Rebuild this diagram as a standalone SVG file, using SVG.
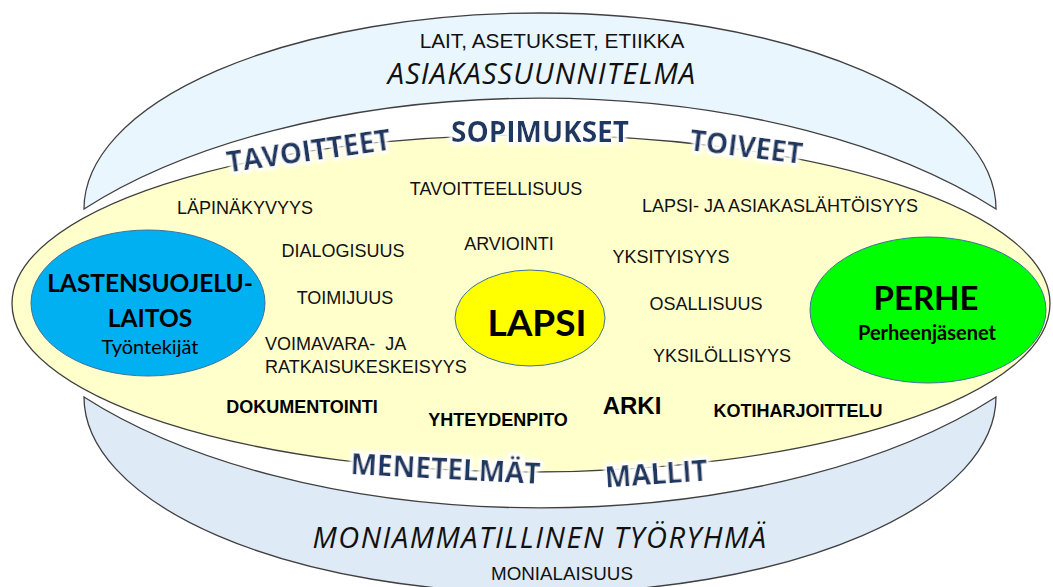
<svg xmlns="http://www.w3.org/2000/svg" width="1053" height="587" viewBox="0 0 1053 587">
  <defs>
    <style>
      .band { stroke: #404040; stroke-width: 1.3; }
      .word { font-family: "Liberation Sans", Arial, sans-serif; font-size: 18px; fill: #111; text-anchor: middle; }
      .wordl { font-family: "Liberation Sans", Arial, sans-serif; font-size: 18px; fill: #111; text-anchor: start; }
      .wordb { font-family: "Liberation Sans", Arial, sans-serif; font-size: 18px; font-weight: bold; fill: #000; text-anchor: middle; }
      .art { font-family: "Open Sans", sans-serif; font-size: 28px; font-weight: bold; fill: #1F3864; text-anchor: middle; filter: url(#glow); }
      .ital { font-family: "Open Sans", sans-serif; font-size: 29px; font-style: italic; letter-spacing: 1.1px; fill: #111; text-anchor: middle; }
      .node { stroke: #41719C; stroke-width: 1; }
      .nlab { font-family: Lato, "Open Sans", sans-serif; font-weight: bold; fill: #000; text-anchor: middle; }
    </style>
    <filter id="glow" x="-20%" y="-50%" width="140%" height="200%">
      <feMorphology in="SourceAlpha" operator="dilate" radius="2" result="d"/>
      <feGaussianBlur in="d" stdDeviation="2" result="b"/>
      <feFlood flood-color="#ffffff"/>
      <feComposite in2="b" operator="in" result="g"/>
      <feMerge><feMergeNode in="g"/><feMergeNode in="g"/><feMergeNode in="SourceGraphic"/></feMerge>
    </filter>
  </defs>
  <rect width="1053" height="587" fill="#ffffff"/>

  <g id="top-band">
    <path class="band" fill="#EAF6FE" d="M84,209 A456,196 0 0,1 996,209 A576,285 0 0,0 84,209 Z"/>
    <text x="552" y="48" font-family="Liberation Sans, Arial, sans-serif" font-size="20.8" fill="#111" text-anchor="middle">LAIT, ASETUKSET, ETIIKKA</text>
    <text class="ital" x="542" y="84">ASIAKASSUUNNITELMA</text>
  </g>

  <g id="bottom-band">
    <path class="band" fill="#DEEAF6" d="M84,397 A456,196 0 0,0 996,397 A576,285 0 0,1 84,397 Z"/>
    <text class="ital" x="540" y="548" style="letter-spacing:1.5px">MONIAMMATILLINEN TYÖRYHMÄ</text>
    <text x="562" y="580" font-family="Liberation Sans, Arial, sans-serif" font-size="18.8" fill="#111" text-anchor="middle">MONIALAISUUS</text>
  </g>

  <g id="main-ellipse">
    <ellipse class="band" fill="#FFFFCC" cx="531" cy="303.5" rx="519" ry="168.5"/>
  </g>

  <g id="node-lastensuojelulaitos">
    <ellipse class="node" fill="#00B0F0" cx="148" cy="303" rx="117" ry="73"/>
    <text class="nlab" x="150" y="292" font-size="24.5">LASTENSUOJELU-</text>
    <text class="nlab" x="150" y="327" font-size="24.5">LAITOS</text>
    <text class="nlab" x="150" y="354" font-size="20" style="font-weight:normal">Työntekijät</text>
  </g>

  <g id="node-lapsi">
    <ellipse class="node" fill="#FFFF00" cx="530" cy="318" rx="75" ry="48"/>
    <text class="nlab" x="537" y="336" font-size="37">LAPSI</text>
  </g>

  <g id="node-perhe">
    <ellipse class="node" fill="#00FF00" cx="928" cy="310" rx="118" ry="73"/>
    <text class="nlab" x="926" y="310" font-size="33">PERHE</text>
    <text class="nlab" x="927" y="340" font-size="20">Perheenjäsenet</text>
  </g>

  <g id="principles">
    <text class="word" x="496" y="195">TAVOITTEELLISUUS</text>
    <text class="word" x="245" y="214">LÄPINÄKYVYYS</text>
    <text class="word" x="780" y="212">LAPSI- JA ASIAKASLÄHTÖISYYS</text>
    <text class="word" x="343" y="257">DIALOGISUUS</text>
    <text class="word" x="509" y="250">ARVIOINTI</text>
    <text class="word" x="671" y="263">YKSITYISYYS</text>
    <text class="word" x="345" y="304">TOIMIJUUS</text>
    <text class="word" x="706" y="310">OSALLISUUS</text>
    <text class="wordl" x="265" y="350" xml:space="preserve">VOIMAVARA-  JA</text>
    <text class="wordl" x="265" y="373">RATKAISUKESKEISYYS</text>
    <text class="word" x="722" y="362">YKSILÖLLISYYS</text>
    <text class="wordb" x="302" y="413">DOKUMENTOINTI</text>
    <text class="wordb" x="498" y="426">YHTEYDENPITO</text>
    <text class="wordb" x="632" y="414" style="font-size:24px">ARKI</text>
    <text class="wordb" x="798" y="417">KOTIHARJOITTELU</text>
  </g>

  <g id="arc-labels">
    <text class="art" x="310" y="161" transform="rotate(-8 310 161)">TAVOITTEET</text>
    <text class="art" x="540" y="142">SOPIMUKSET</text>
    <text class="art" x="745" y="157" transform="rotate(7 745 157)">TOIVEET</text>
    <text class="art" x="445" y="479" transform="rotate(3 445 479)">MENETELMÄT</text>
    <text class="art" x="657" y="484" transform="rotate(-4 657 484)">MALLIT</text>
  </g>

  <g id="connectors"/>
</svg>
